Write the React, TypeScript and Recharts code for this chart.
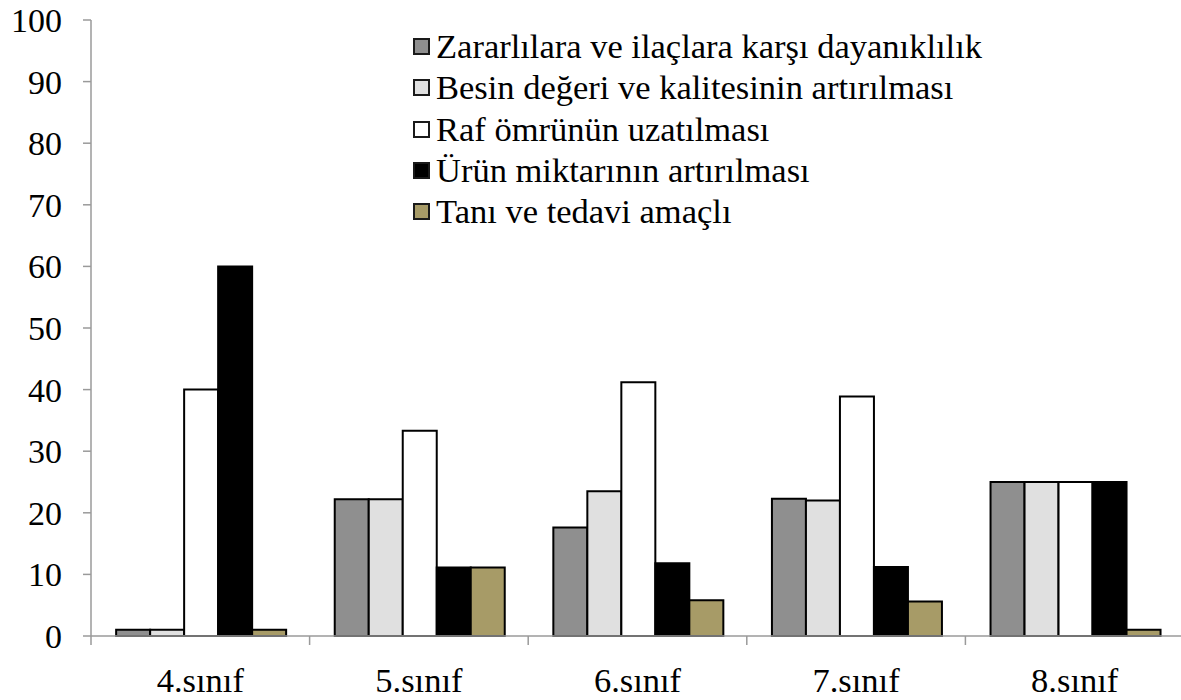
import { BarChart, Bar, XAxis, YAxis, Legend } from "recharts";

const categories = ["4.sınıf", "5.sınıf", "6.sınıf", "7.sınıf", "8.sınıf"];

// one array per series (percent)
const zararlilara = [1, 22.2, 17.6, 22.3, 25];
const besinDegeri = [1, 22.2, 23.5, 22.0, 25];
const rafOmru = [40, 33.3, 41.2, 38.9, 25];
const urunMiktari = [60, 11.1, 11.8, 11.2, 25];
const taniTedavi = [1, 11.1, 5.8, 5.6, 1];

const seriesNames = [
  "Zararlılara ve ilaçlara karşı dayanıklılık",
  "Besin değeri ve kalitesinin artırılması",
  "Raf ömrünün uzatılması",
  "Ürün miktarının artırılması",
  "Tanı ve tedavi amaçlı",
];

const yTicks = [0, 10, 20, 30, 40, 50, 60, 70, 80, 90, 100];

const FONT = "Liberation Serif, Times New Roman, Times, DejaVu Serif, serif";
const AXIS = "#9a9a9a";
const W = 1181;
const H = 700;
const Y_AXIS_W = 91;
const MARGIN = { top: 20, right: -3, left: 0, bottom: 0 };
const PLOT_W = W - Y_AXIS_W - MARGIN.left - MARGIN.right;
const X_TICK_MARGIN = 32;

const SERIES = [
  { key: "s0", values: zararlilara, fill: "#8f8f8f" },
  { key: "s1", values: besinDegeri, fill: "#e0e0e0" },
  { key: "s2", values: rafOmru, fill: "#ffffff" },
  { key: "s3", values: urunMiktari, fill: "#000000" },
  { key: "s4", values: taniTedavi, fill: "#a79b67" },
];

const data = categories.map((name, i) => {
  const row: Record<string, string | number> = { name };
  SERIES.forEach((s) => (row[s.key] = s.values[i]));
  return row;
});

// category label + boundary tick marks (ticks sit between groups, not under them)
const CategoryTick = (props: any) => {
  const { x, y, payload, index } = props;
  const band = PLOT_W / categories.length;
  const axisY = y - X_TICK_MARGIN;
  return (
    <g>
      <line x1={x - band / 2} x2={x - band / 2} y1={axisY} y2={axisY + 9} stroke={AXIS} strokeWidth={1.5} />
      {index === categories.length - 1 && (
        <line x1={x + band / 2} x2={x + band / 2} y1={axisY} y2={axisY + 9} stroke={AXIS} strokeWidth={1.5} />
      )}
      <text x={x} y={y} dy="0.69em" textAnchor="middle" fontSize={34.5} fontFamily={FONT} fill="#000">
        {payload.value}
      </text>
    </g>
  );
};

// legend keeps the series order of the original (Recharts would sort it)
const renderLegend = () => (
  <div style={{ fontFamily: FONT, fontSize: 34.5, lineHeight: "41.3px", color: "#000" }}>
    {SERIES.map((s, i) => (
      <div key={s.key} style={{ display: "flex", alignItems: "center", whiteSpace: "nowrap" }}>
        <span
          style={{
            display: "inline-block",
            width: 13,
            height: 13,
            border: "2px solid #1a1a1a",
            background: s.fill,
            marginRight: 6,
          }}
        />
        {seriesNames[i]}
      </div>
    ))}
  </div>
);

export default function App() {
  return (
    <div style={{ position: "absolute", left: 0, top: 0, width: W, height: H, background: "#fff" }}>
      <BarChart width={W} height={H} data={data} margin={MARGIN} barCategoryGap="11.5%" barGap={0}>
        <XAxis
          dataKey="name"
          height={H - MARGIN.top - 616}
          interval={0}
          tickLine={false}
          tickSize={0}
          tickMargin={X_TICK_MARGIN}
          axisLine={{ stroke: AXIS, strokeWidth: 1.5 }}
          tick={<CategoryTick />}
        />
        <YAxis
          width={Y_AXIS_W}
          domain={[0, 100]}
          ticks={yTicks}
          interval={0}
          tickSize={8}
          tickMargin={21}
          axisLine={{ stroke: AXIS, strokeWidth: 1.5 }}
          tickLine={{ stroke: AXIS, strokeWidth: 1.5 }}
          tick={{ fill: "#000", fontSize: 34, fontFamily: FONT }}
        />
        <Legend
          layout="vertical"
          align="center"
          verticalAlign="middle"
          content={renderLegend}
          wrapperStyle={{ left: 413, top: 26, width: "auto" }}
        />
        {SERIES.map((s, i) => (
          <Bar
            key={s.key}
            dataKey={s.key}
            name={seriesNames[i]}
            fill={s.fill}
            stroke="#000"
            strokeWidth={2}
            isAnimationActive={false}
          />
        ))}
      </BarChart>
    </div>
  );
}
